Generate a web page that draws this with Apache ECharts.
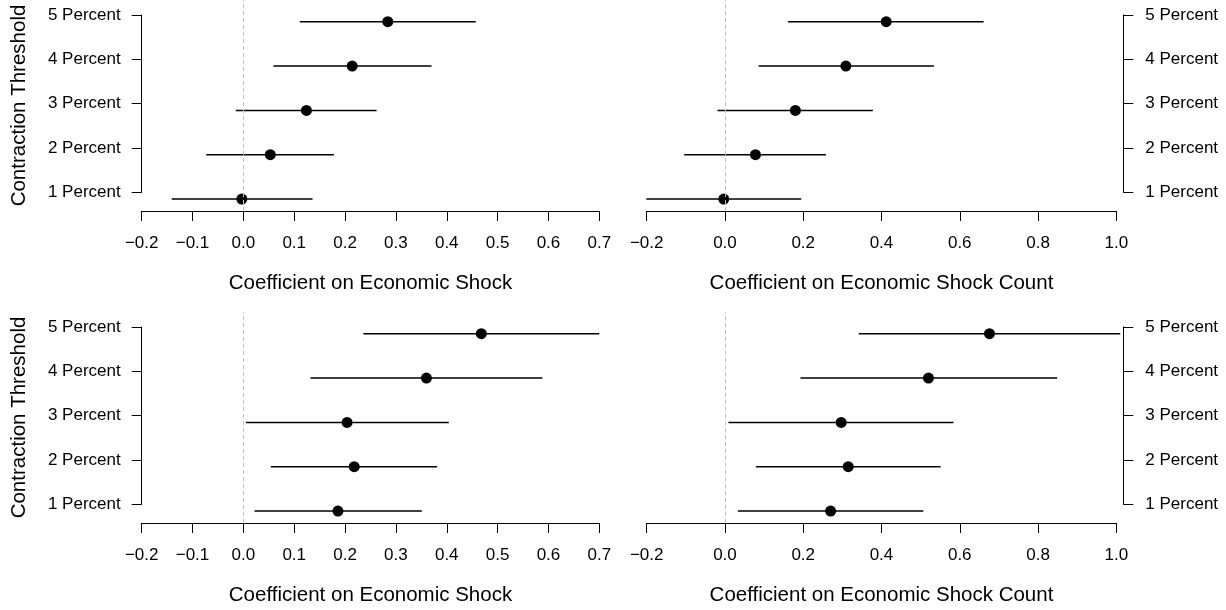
<!DOCTYPE html>
<html>
<head>
<meta charset="utf-8">
<script src="https://cdn.jsdelivr.net/npm/echarts@6/dist/echarts.min.js"></script>
<style>
html,body{margin:0;padding:0;background:#fff;}
#chart{width:1226px;height:610px;}
</style>
</head>
<body>
<div id="chart"></div>
<script>
// ---- data ----
const categories = ['1 Percent', '2 Percent', '3 Percent', '4 Percent', '5 Percent'];
const shockTicks = [-0.2, -0.1, 0.0, 0.1, 0.2, 0.3, 0.4, 0.5, 0.6, 0.7];
const countTicks = [-0.2, 0.0, 0.2, 0.4, 0.6, 0.8, 1.0];

const topShockEst = [-0.003, 0.053, 0.124, 0.214, 0.284];
const topShockLo  = [-0.141, -0.073, -0.015, 0.059, 0.111];
const topShockHi  = [0.136, 0.178, 0.262, 0.370, 0.457];

const topCountEst = [-0.003, 0.078, 0.180, 0.309, 0.412];
const topCountLo  = [-0.201, -0.104, -0.019, 0.086, 0.161];
const topCountHi  = [0.195, 0.258, 0.378, 0.534, 0.661];

const botShockEst = [0.186, 0.218, 0.204, 0.360, 0.468];
const botShockLo  = [0.022, 0.054, 0.005, 0.132, 0.236];
const botShockHi  = [0.351, 0.381, 0.404, 0.588, 0.700];

const botCountEst = [0.270, 0.315, 0.297, 0.520, 0.676];
const botCountLo  = [0.033, 0.079, 0.009, 0.193, 0.342];
const botCountHi  = [0.507, 0.551, 0.584, 0.849, 1.010];

const xTitleShock = 'Coefficient on Economic Shock';
const xTitleCount = 'Coefficient on Economic Shock Count';
const yTitle = 'Contraction Threshold';

// ---- layout ----
const FONT = '"Liberation Sans", Arial, Helvetica, sans-serif';
const panels = [
  {left: 141.67, top: 0,   width: 457.63, ticks: shockTicks, est: topShockEst, lo: topShockLo, hi: topShockHi, xName: xTitleShock, side: 'left'},
  {left: 646.67, top: 0,   width: 469.63, ticks: countTicks, est: topCountEst, lo: topCountLo, hi: topCountHi, xName: xTitleCount, side: 'right'},
  {left: 141.67, top: 312, width: 457.63, ticks: shockTicks, est: botShockEst, lo: botShockLo, hi: botShockHi, xName: xTitleShock, side: 'left'},
  {left: 646.67, top: 312, width: 469.63, ticks: countTicks, est: botCountEst, lo: botCountLo, hi: botCountHi, xName: xTitleCount, side: 'right'}
];
const PLOT_H = 211;
const Y_MIN = 0.73, Y_MAX = 5.49;
const LAB_OFF = 15, LAB_H = 177.3;
const RIGHT_AXIS_X = 1124.3;

function fmt(v) {
  const a = Math.abs(v) < 1e-9 ? 0 : v;
  return (a < 0 ? '\u2212' : '') + Math.abs(a).toFixed(1);
}

const grid = [], xAxis = [], yAxis = [], series = [];
panels.forEach((p, k) => {
  const gi = grid.length;
  grid.push({left: p.left, top: p.top, width: p.width, height: PLOT_H});
  const tmin = p.ticks[0], tmax = p.ticks[p.ticks.length - 1];
  xAxis.push({
    gridIndex: gi, type: 'value', min: tmin, max: tmax,
    interval: Math.round((p.ticks[1] - p.ticks[0]) * 10) / 10,
    axisLine: {show: true, onZero: false, lineStyle: {color: '#000', width: 1}},
    axisTick: {show: true, inside: false, length: 10, lineStyle: {color: '#000', width: 1}},
    axisLabel: {show: true, margin: 24, color: '#000', fontSize: 17, fontFamily: FONT, formatter: fmt},
    splitLine: {show: false},
    name: p.xName, nameLocation: 'middle', nameGap: 62,
    nameTextStyle: {color: '#000', fontSize: 20.5, fontFamily: FONT}
  });
  yAxis.push({
    gridIndex: gi, type: 'value', min: Y_MIN, max: Y_MAX,
    axisLine: {show: false}, axisTick: {show: false}, axisLabel: {show: false}, splitLine: {show: false},
    name: p.side === 'left' ? yTitle : '', nameLocation: 'middle', nameGap: 112, nameRotate: 90,
    nameTextStyle: {color: '#000', fontSize: 20.5, fontFamily: FONT}
  });

  // label grid (R-style y axis spanning first to last tick)
  const li = grid.length;
  if (p.side === 'left') {
    grid.push({left: p.left, top: p.top + LAB_OFF, width: 1, height: LAB_H});
  } else {
    grid.push({left: RIGHT_AXIS_X - 1, top: p.top + LAB_OFF, width: 1, height: LAB_H});
  }
  xAxis.push({gridIndex: li, type: 'value', show: false, min: 0, max: 1});
  yAxis.push({
    gridIndex: li, type: 'category', data: categories, boundaryGap: false, position: p.side,
    axisLine: {show: true, lineStyle: {color: '#000', width: 1}},
    axisTick: {show: true, inside: false, length: 10, alignWithLabel: true, lineStyle: {color: '#000', width: 1}},
    axisLabel: {show: true, margin: 21, color: '#000', fontSize: 17, fontFamily: FONT, interval: 0},
    splitLine: {show: false}
  });

  // zero reference line
  series.push({
    type: 'scatter', xAxisIndex: gi, yAxisIndex: gi, data: [], z: 1, silent: true,
    markLine: {
      silent: true, symbol: ['none', 'none'], label: {show: false},
      lineStyle: {color: '#bebebe', width: 1, type: [4, 3]},
      data: [{xAxis: 0}]
    }
  });
  // error bars
  series.push({
    type: 'custom', xAxisIndex: gi, yAxisIndex: gi, z: 2, silent: true, clip: false,
    data: p.lo.map((l, i) => [l, p.hi[i], i + 1]),
    encode: {x: [0, 1], y: 2},
    renderItem: function (params, api) {
      const y = api.value(2);
      const a = api.coord([api.value(0), y]);
      const b = api.coord([api.value(1), y]);
      return {type: 'line', shape: {x1: a[0], y1: a[1], x2: b[0], y2: b[1]},
              style: {stroke: '#000', lineWidth: 1.5}};
    }
  });
  // point estimates
  series.push({
    type: 'scatter', xAxisIndex: gi, yAxisIndex: gi, z: 3, silent: true,
    symbol: 'circle', symbolSize: 11, itemStyle: {color: '#000', opacity: 1},
    data: p.est.map((e, i) => [e, i + 1])
  });
});

const chart = echarts.init(document.getElementById('chart'), null, {renderer: 'canvas'});
chart.setOption({
  animation: false,
  backgroundColor: '#fff',
  textStyle: {fontFamily: FONT},
  grid, xAxis, yAxis, series
});
</script>
</body>
</html>
